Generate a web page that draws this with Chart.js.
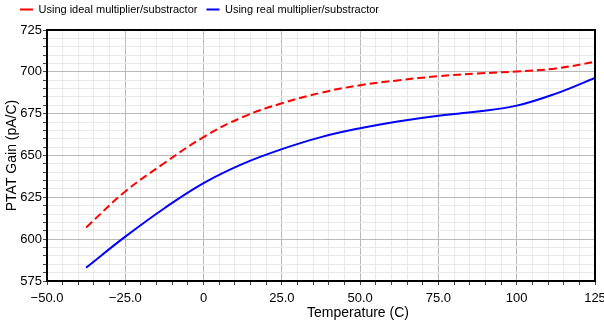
<!DOCTYPE html>
<html>
<head>
<meta charset="utf-8">
<script src="https://cdn.jsdelivr.net/npm/chart.js@4/dist/chart.umd.min.js"></script>
<style>
  html, body { margin: 0; padding: 0; background: #fff; }
  #wrap { width: 604px; height: 324px; }
</style>
</head>
<body>
<div id="wrap"><canvas id="gainChart"></canvas></div>
<script>
// temperature points (C)
const temps = [-37.5, -25, -12.5, 0, 12.5, 25, 37.5, 50, 62.5, 75, 87.5, 100, 112.5, 125];
// PTAT gain (pA/C)
const idealGain = [607, 628.5, 645.5, 661, 673, 681.2, 687.5, 692, 695, 697.4, 699, 700.2, 702, 706];
const realGain  = [583, 601.5, 618.5, 633.5, 645, 653.8, 661, 666.3, 670.5, 673.8, 676.3, 679.8, 687, 696.4];
const seriesNames = ['Using ideal multiplier/substractor', 'Using real multiplier/substractor'];
const xTickLabels = { '-50': '\u221250.0', '-25': '\u221225.0', '0': '0', '25': '25.0', '50': '50.0', '75': '75.0', '100': '100', '125': '125' };
const xTitle = 'Temperature (C)';
const yTitle = 'PTAT Gain (pA/C)';

const majorGrid = '#b9b9b9';
const minorGrid = '#e9e9e9';
const font = 'Liberation Sans';

// black box round the plot, x title a bit right of centre like the original
const frame = {
    id: 'frame',
    afterLayout(chart) {
        chart.legend.left += 11;
        chart.legend.top -= 5;
    },
    afterDraw(chart) {
        const a = chart.chartArea;
        const ctx = chart.ctx;
        ctx.save();
        ctx.strokeStyle = '#000';
        ctx.lineWidth = 2;
        ctx.strokeRect(a.left, a.top, a.right - a.left, a.bottom - a.top);
        ctx.fillStyle = '#000';
        ctx.font = '14px "' + font + '"';
        ctx.textAlign = 'center';
        ctx.textBaseline = 'middle';
        ctx.fillText(xTitle, (a.left + a.right) / 2 + 37, 313);
        ctx.restore();
    }
};

function toPoints(ys) {
    return temps.map((t, i) => ({ x: t, y: ys[i] }));
}

new Chart(document.getElementById('gainChart'), {
    type: 'line',
    data: {
        datasets: [{
            label: seriesNames[0],
            data: toPoints(idealGain),
            borderColor: '#ff0000',
            backgroundColor: '#ff0000',
            borderWidth: 2,
            borderDash: [8, 4],
            pointRadius: 0,
            tension: 0.4
        }, {
            label: seriesNames[1],
            data: toPoints(realGain),
            borderColor: '#0000ff',
            backgroundColor: '#0000ff',
            borderWidth: 2,
            pointRadius: 0,
            tension: 0.4
        }]
    },
    options: {
        responsive: true,
        maintainAspectRatio: false,
        animation: false,
        layout: { padding: { left: 0, right: 9, top: 0, bottom: 0 } },
        plugins: {
            legend: {
                position: 'top',
                align: 'start',
                labels: {
                    font: { family: font, size: 11 },
                    color: '#000',
                    usePointStyle: true,
                    pointStyle: 'line',
                    pointStyleWidth: 13,
                    boxHeight: 2,
                    padding: 9,
                    generateLabels(chart) {
                        return chart.data.datasets.map((ds, i) => ({
                            text: ds.label,
                            strokeStyle: ds.borderColor,
                            fillStyle: ds.borderColor,
                            lineWidth: 2,
                            lineDash: [],
                            pointStyle: 'line',
                            hidden: false,
                            datasetIndex: i
                        }));
                    }
                }
            },
            tooltip: { enabled: false }
        },
        scales: {
            x: {
                type: 'linear',
                min: -50,
                max: 125,
                afterFit(s) { s.height = 43; s.paddingRight = 0; },
                ticks: {
                    stepSize: 5,
                    autoSkip: false,
                    maxRotation: 0,
                    padding: 6,
                    color: '#000',
                    font: { family: font, size: 13 },
                    callback: v => xTickLabels[String(v)] || ''
                },
                grid: {
                    color: c => (c.tick && c.tick.value % 25 === 0) ? majorGrid : minorGrid,
                    tickColor: '#444',
                    tickLength: 4
                },
                border: { color: '#000', width: 2 },
                title: { display: false, text: xTitle }
            },
            y: {
                min: 575,
                max: 725,
                afterFit(s) { s.width = 47; },
                ticks: {
                    stepSize: 5,
                    autoSkip: false,
                    padding: 1,
                    color: '#000',
                    font: { family: font, size: 13 },
                    callback: v => (v % 25 === 0) ? String(v) : ''
                },
                grid: {
                    color: c => (c.tick && c.tick.value % 25 === 0) ? majorGrid : minorGrid,
                    tickColor: '#444',
                    tickLength: 4
                },
                border: { color: '#000', width: 2 },
                title: {
                    display: true,
                    text: yTitle,
                    color: '#000',
                    font: { family: font, size: 14 },
                    padding: { top: 4, bottom: 0 }
                }
            }
        }
    },
    plugins: [frame]
});
</script>
</body>
</html>
